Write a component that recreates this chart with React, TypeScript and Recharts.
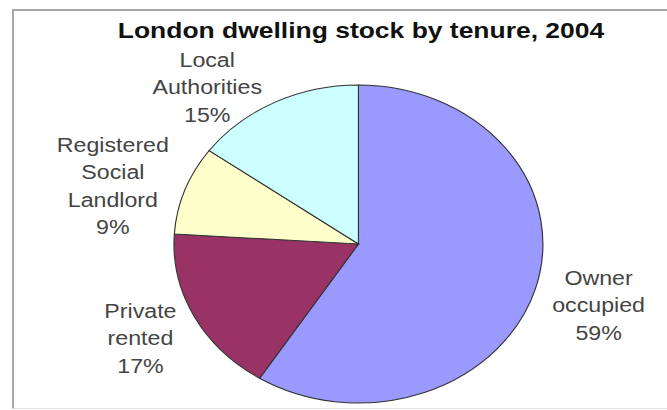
import React from 'react';
import { PieChart, Pie, Cell } from 'recharts';

// London dwelling stock by tenure, 2004 (shares in %)
const categories = ['Owner occupied', 'Private rented', 'Registered Social Landlord', 'Local Authorities'];
const labelLines = [['Owner', 'occupied'], ['Private', 'rented'], ['Registered', 'Social', 'Landlord'], ['Local', 'Authorities']];
const shares = [59, 17, 9, 15];
const colors = ['#9999FF', '#993366', '#FFFFCC', '#CCFFFF'];

const data = categories.map((name, i) => ({ name, value: shares[i] }));

// the original picture is stretched sideways, so the whole chart is scaled in x
const SX = 1.16;
const FONT = 20;
const LINE_H = 27.5;
const GAP = 19;
const TITLE_BOTTOM = 46;
const RADIAN = Math.PI / 180;

const renderLabel = (props: any) => {
  const { cx, cy, midAngle, outerRadius, percent, index } = props;
  const lines: string[] = [...labelLines[index], `${Math.round(percent * 100)}%`];
  const maxLen = Math.max(...lines.map((l) => l.length));
  const w = maxLen * 0.47 * FONT;
  const h = lines.length * LINE_H;
  const ux = Math.cos(-midAngle * RADIAN);
  const uy = Math.sin(-midAngle * RADIAN);
  let dx = (outerRadius + GAP) * ux + (w / 2) * ux;
  let dy = (outerRadius + GAP) * uy + (h / 2) * uy * 0.3 + 8;
  // keep labels clear of the title, pushing them sideways a bit
  if (cy + dy - h / 2 < TITLE_BOTTOM) {
    dy = TITLE_BOTTOM + h / 2 - cy;
    dx = dx * 1.25;
  }
  const x = cx + dx;
  const top = cy + dy - h / 2;
  return (
    <text
      key={`lbl-${index}`}
      x={x}
      y={top}
      textAnchor="middle"
      fill="#444"
      fontSize={FONT}
      fontFamily="'Liberation Sans', Arial, sans-serif"
    >
      {lines.map((l, i) => (
        <tspan key={i} x={x} y={top + LINE_H * (i + 0.5) + FONT * 0.35}>
          {l}
        </tspan>
      ))}
    </text>
  );
};

const App: React.FC = () => {
  return (
    <div
      style={{
        position: 'absolute',
        left: 0,
        top: 0,
        width: 667,
        height: 410,
        overflow: 'hidden',
        background: '#fff',
      }}
    >
      {/* frame */}
      <div
        style={{
          position: 'absolute',
          left: 12,
          top: 9,
          width: 700,
          height: 397,
          borderTop: '2px solid #a8a8a8',
          borderLeft: '2px solid #a8a8a8',
          borderBottom: '1px solid #e2e2e2',
        }}
      />

      {/* title */}
      <div
        style={{
          position: 'absolute',
          left: 361,
          top: 17,
          transform: `translateX(-50%) scaleX(${SX})`,
          whiteSpace: 'nowrap',
          fontFamily: "'Liberation Sans', Arial, sans-serif",
          fontWeight: 'bold',
          fontSize: 22.8,
          lineHeight: '26px',
          color: '#111',
        }}
      >
        London dwelling stock by tenure, 2004
      </div>

      <div
        style={{
          position: 'absolute',
          left: 0,
          top: 0,
          transform: `scaleX(${SX})`,
          transformOrigin: '0 0',
        }}
      >
        <PieChart width={575} height={410}>
          <Pie
            data={data}
            dataKey="value"
            nameKey="name"
            cx={304}
            cy={239}
            outerRadius={159}
            startAngle={90}
            endAngle={-270}
            stroke="#333"
            strokeWidth={1}
            label={renderLabel}
            labelLine={false}
            isAnimationActive={false}
          >
            {data.map((d, i) => (
              <Cell key={d.name} fill={colors[i]} />
            ))}
          </Pie>
        </PieChart>
      </div>
    </div>
  );
};

export default App;
